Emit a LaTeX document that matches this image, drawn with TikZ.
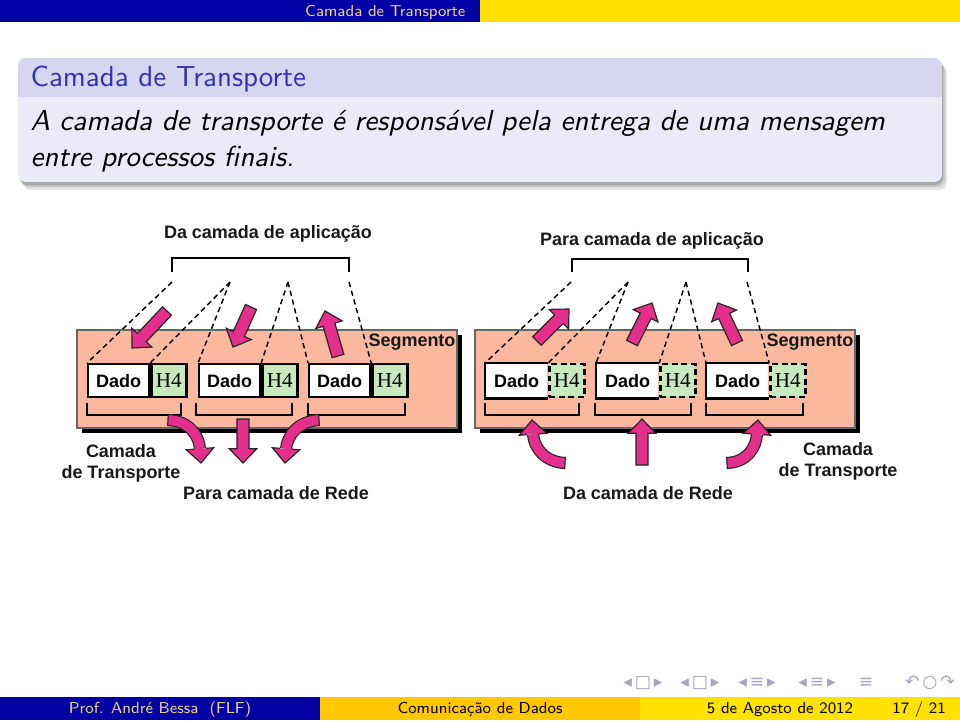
\documentclass[tikz,border=0pt]{standalone}
\usepackage{fontspec}
\newfontfamily\figfont{Liberation Sans}
\newfontfamily\hfont{Liberation Serif}
\newfontfamily\symfont{DejaVu Sans}
\usetikzlibrary{calc,positioning}

\definecolor{barblue}{RGB}{0,0,165}
\definecolor{bartext}{RGB}{240,208,140}
\definecolor{baryellow}{RGB}{255,226,0}
\definecolor{barorange}{RGB}{255,200,0}
\definecolor{blocktitle}{RGB}{214,214,240}
\definecolor{blockbody}{RGB}{235,235,247}
\definecolor{titleblue}{RGB}{51,51,178}
\definecolor{salmon}{RGB}{250,184,158}
\definecolor{hgreen}{RGB}{198,234,190}
\definecolor{arrowpink}{RGB}{228,48,140}
\definecolor{navgray}{RGB}{165,165,190}

% straight fat arrow: tail, tip
\newcommand{\fatarrow}[2]{%
  \coordinate (neck) at ($(#2)!5.4pt!(#1)$);
  \draw[fatarrowline] ($(#1)!2.3pt!90:(#2)$) -- ($(neck)!2.3pt!90:(#2)$) -- ($(neck)!5.2pt!90:(#2)$) -- (#2)
    -- ($(neck)!5.2pt!-90:(#2)$) -- ($(neck)!2.3pt!-90:(#2)$) -- ($(#1)!2.3pt!-90:(#2)$) -- cycle;}
% bent fat arrow: tail, control, control, tip
\newcommand{\bentarrow}[4]{%
  \coordinate (neck) at ($(#4)!5.4pt!(#3)$);
  \draw[bentshaft] (#1) .. controls (#2) and (#3) .. (neck);
  \fill[arrowpink] ($(neck)!5.2pt!90:(#4)$) -- (#4) -- ($(neck)!5.2pt!-90:(#4)$) -- cycle;
  \draw[arrowedge] ($(neck)!2.3pt!90:(#4)$) -- ($(neck)!5.2pt!90:(#4)$) -- (#4) -- ($(neck)!5.2pt!-90:(#4)$) -- ($(neck)!2.3pt!-90:(#4)$);
  \draw[arrowedge] ($(#1)!2.3pt!90:(#2)$) -- ($(#1)!2.3pt!-90:(#2)$);}

\begin{document}
\begin{tikzpicture}[x=0.378pt,y=0.378pt,yscale=-1,xscale=1,
  fatarrowline/.style={draw=black!85,line width=0.45pt,fill=arrowpink},
  bentshaft/.style={draw=black!85,line width=0.45pt,double=arrowpink,double distance=3.7pt},
  arrowedge/.style={draw=black!85,line width=0.45pt},
  bracket/.style={draw=black,line width=0.8pt},
  guide/.style={draw=black,line width=0.55pt,dash pattern=on 2pt off 1.4pt},
  boxedge/.style={draw=black,line width=0.9pt},
  dadobox/.style={draw=black,line width=0.9pt,fill=white,minimum width=23pt,minimum height=12.5pt,inner sep=0pt,font=\fontsize{6.8}{8}\selectfont\figfont\bfseries},
  hbox/.style={draw=black,line width=0.9pt,fill=hgreen,minimum width=13.2pt,minimum height=12.5pt,inner sep=0pt,font=\fontsize{8}{9}\selectfont\hfont},
  figlabel/.style={inner sep=0pt,text=black!90,font=\fontsize{6.8}{8}\selectfont\figfont\bfseries},
  barlabel/.style={inner sep=0pt,font=\fontsize{6}{7}\selectfont\sffamily},
  navsym/.style={inner sep=0pt,text=navgray,font=\fontsize{6.5}{7}\selectfont\symfont},
  blocktext/.style={inner sep=0pt,anchor=base west,font=\fontsize{10.95}{13.6}\selectfont\sffamily}]
\useasboundingbox (0,0) rectangle (960,720);
\fill[white] (0,0) rectangle (960,720);

%Shape: header bars
\fill[barblue] (0,0) rectangle (480,22);
\fill[baryellow] (480,0) rectangle (960,22);
% Text Node
\node[barlabel,text=bartext,anchor=base east] (head) at (466,16) {Camada de Transporte};

%Shape: block shadow
\fill[black,opacity=0.10,rounded corners=3pt] (23,65) rectangle (947,190);
\fill[black,opacity=0.13,rounded corners=3pt] (21,63) rectangle (945,187);
\fill[black,opacity=0.16,rounded corners=3pt] (19,60) rectangle (943,185);
%Shape: block
\begin{scope}
\clip[rounded corners=3pt] (18,58) rectangle (942,182);
\fill[blockbody] (18,58) rectangle (942,182);
\fill[blocktitle] (18,58) rectangle (942,97);
\end{scope}
% Text Node
\node[blocktext,text=titleblue] (btitle) at (30,86) {Camada de Transporte};
\node[blocktext,font=\fontsize{10.95}{13.6}\selectfont\sffamily\itshape] (bline1) at (30,130) {A camada de transporte é responsável pela entrega de uma mensagem};
\node[blocktext,font=\fontsize{10.95}{13.6}\selectfont\sffamily\itshape] (bline2) at (30,166) {entre processos finais.};

%Shape: left panel
\fill[black] (82,335) rectangle (462,433);
\filldraw[fill=salmon,draw=black!60,line width=0.4pt] (77,330) rectangle (457,428);
%Shape: right panel
\fill[black] (480,335) rectangle (860,433);
\filldraw[fill=salmon,draw=black!60,line width=0.4pt] (475,330) rectangle (855,428);

% Text Node
\node[figlabel] (appl) at (268,234) {Da camada de aplicação};
\node[figlabel] (appr) at (652,241) {Para camada de aplicação};
\node[figlabel,anchor=east] (segl) at (456,342) {Segmento};
\node[figlabel,anchor=east] (segr) at (854,342) {Segmento};
\node[figlabel,align=center] (transl) at (121,463) {Camada\\de Transporte};
\node[figlabel,align=center] (transr) at (838,461) {Camada\\de Transporte};
\node[figlabel] (redel) at (276,493) {Para camada de Rede};
\node[figlabel] (reder) at (648,493) {Da camada de Rede};

%Shape: left segments
\node[dadobox,anchor=north west] (d1) at (87,363) {Dado};
\node[hbox,anchor=west] (h1) at (d1.east) {H4};
\node[dadobox,anchor=north west] (d2) at (198,363) {Dado};
\node[hbox,anchor=west] (h2) at (d2.east) {H4};
\node[dadobox,anchor=north west] (d3) at (308,363) {Dado};
\node[hbox,anchor=west] (h3) at (d3.east) {H4};

%Shape: right segments
\node[dadobox,draw=none,anchor=north west] (e1) at (485,363) {Dado};
\node[hbox,dash pattern=on 2.2pt off 1.4pt,anchor=west] (k1) at (e1.east) {H4};
\node[dadobox,draw=none,anchor=north west] (e2) at (596,363) {Dado};
\node[hbox,dash pattern=on 2.2pt off 1.4pt,anchor=west] (k2) at (e2.east) {H4};
\node[dadobox,draw=none,anchor=north west] (e3) at (706,363) {Dado};
\node[hbox,dash pattern=on 2.2pt off 1.4pt,anchor=west] (k3) at (e3.east) {H4};
\foreach \e in {e1,e2,e3}
  \draw[boxedge] (\e.north east) -- (\e.north west) -- (\e.south west) -- (\e.south east);

%Shape: brackets
\draw[bracket] (172,272) |- (349,258) -- (349,272);
\draw[bracket] (572,272) |- (748,259) -- (748,272);
\draw[bracket] (87,403) |- (181,415) -- (181,403);
\draw[bracket] (196,403) |- (292,415) -- (292,403);
\draw[bracket] (308,403) |- (405,415) -- (405,403);
\draw[bracket] (485,403) |- (579,415) -- (579,403);
\draw[bracket] (595,403) |- (691,415) -- (691,403);
\draw[bracket] (706,403) |- (803,415) -- (803,403);

%Shape: dashed guides
\coordinate (la1) at (172,282);
\coordinate (la2) at (230,282);
\coordinate (la3) at (288,282);
\coordinate (la4) at (349,282);
\coordinate (ra1) at (571,282);
\coordinate (ra2) at (628,282);
\coordinate (ra3) at (686,282);
\coordinate (ra4) at (747,282);
\draw[guide] (la1) -- (d1.north west);
\draw[guide] (la2) -- (h1.north west);
\draw[guide] (la2) -- (d2.north west);
\draw[guide] (la3) -- (h2.north west);
\draw[guide] (la3) -- (d3.north west);
\draw[guide] (la4) -- (h3.north west);
\draw[guide] (ra1) -- (e1.north west);
\draw[guide] (ra2) -- (k1.north west);
\draw[guide] (ra2) -- (e2.north west);
\draw[guide] (ra3) -- (k2.north west);
\draw[guide] (ra3) -- (e3.north west);
\draw[guide] (ra4) -- (k3.north west);

%Shape: arrows, left
\fatarrow{167,311}{132,348}
\fatarrow{251,307}{233,347}
\fatarrow{338,356}{325,311}
\bentarrow{168,420}{190,421}{199,436}{201,463}
\fatarrow{243,419}{243,463}
\bentarrow{319,420}{298,421}{287,436}{285,463}
%Shape: arrows, right
\fatarrow{537,341}{569,309}
\fatarrow{632,343}{652,303}
\fatarrow{737,343}{718,303}
\bentarrow{565,463}{545,462}{534,448}{532,420}
\fatarrow{642,465}{642,419}
\bentarrow{727,463}{747,462}{756,448}{758,420}

% Text Node: navigation
\node[navsym] (nav1) at (643,683) {◂\,□\,▸};
\node[navsym] (nav2) at (700,683) {◂\,□\,▸};
\node[navsym] (nav3) at (757,683) {◂\,≡\,▸};
\node[navsym] (nav4) at (817,683) {◂\,≡\,▸};
\node[navsym] (nav5) at (866,683) {≡};
\node[navsym] (nav6) at (930,683) {↶\,○\,↷};

%Shape: footer bars
\fill[barblue] (0,697) rectangle (320,720);
\fill[barorange] (320,697) rectangle (640,720);
\fill[baryellow] (640,697) rectangle (960,720);
% Text Node
\node[barlabel,text=bartext,anchor=base] (author) at (160,713) {Prof. André Bessa\ \ (FLF)};
\node[barlabel,anchor=base] (course) at (480,713) {Comunicação de Dados};
\node[barlabel,anchor=base] (date) at (780,713) {5 de Agosto de 2012};
\node[barlabel,anchor=base] (page) at (919,713) {17 / 21};
\end{tikzpicture}
\end{document}
